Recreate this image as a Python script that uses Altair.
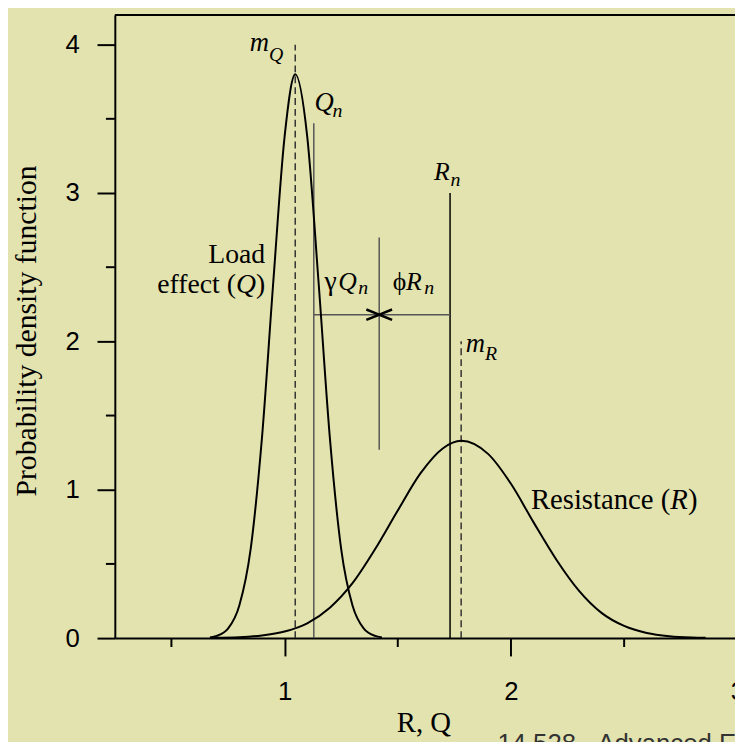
import altair as alt
import pandas as pd

BG = "#e3e3af"
SERIF = "Liberation Serif"
SANS = "Liberation Sans"

# Load effect (Q) curve
q_x = [0.67, 0.70, 0.75, 0.80, 0.85, 0.90, 0.95, 1.00, 1.047, 1.10, 1.15, 1.20, 1.25, 1.30, 1.35, 1.40, 1.43]
q_y = [0.005, 0.015, 0.064, 0.22, 0.60, 1.35, 2.40, 3.38, 3.80, 3.38, 2.40, 1.35, 0.60, 0.22, 0.064, 0.015, 0.005]

# Resistance (R) curve
r_x = [0.68, 0.80, 0.90, 1.00, 1.10, 1.20, 1.30, 1.40, 1.50, 1.60, 1.70, 1.78, 1.90, 2.00, 2.10, 2.20, 2.30, 2.40, 2.50, 2.60, 2.70, 2.80, 2.86]
r_y = [0.002, 0.006, 0.018, 0.045, 0.10, 0.205, 0.37, 0.60, 0.86, 1.11, 1.28, 1.33, 1.24, 1.04, 0.78, 0.53, 0.32, 0.17, 0.082, 0.035, 0.013, 0.004, 0.002]

# vertical reference lines: mQ, Qn, Rn, mR, centre line
vl_x = [1.047, 1.129, 1.731, 1.780, 1.418]
vl_y0 = [0.0, 0.0, 0.0, 0.0, 1.27]
vl_y1 = [4.0, 3.47, 3.0, 2.0, 2.70]
vl_kind = ["dashed", "gray", "black", "dashed", "gray"]

# horizontal dimension line
h_y = [2.18]
h_x0 = [1.129]
h_x1 = [1.731]

# arrow tips
arrow_x = [1.418]
arrow_y = [2.18]

# tick values
y_major = [0, 1, 2, 3, 4]
y_minor = [0.5, 1.5, 2.5, 3.5]
x_major = [1, 2, 3]
x_minor = [0.5, 1.5, 2.5]

# annotation pieces: text, x, y, size, style, align
lab_text = ["m", "Q", "Q", "n", "R", "n", "m", "R",
            "γ", "Q", "n", "ϕ", "R", "n",
            "Load", ")", "Q", "effect (",
            "Resistance (", "R", ")"]
lab_x = [0.931, 0.931, 1.132, 1.212, 1.660, 1.733, 1.800, 1.885,
         1.176, 1.237, 1.325, 1.478, 1.536, 1.617,
         0.914, 0.914, 0.8734, 0.7852,
         2.088, 2.704, 2.782]
lab_y = [3.96, 3.89, 3.555, 3.51, 3.09, 3.05, 1.929, 1.873,
         2.345, 2.345, 2.32, 2.345, 2.345, 2.32,
         2.527, 2.327, 2.327, 2.327,
         0.867, 0.867, 0.867]
lab_size = [27, 20, 27, 20, 26, 20, 27, 20,
            28, 26, 20, 26, 26, 20,
            28, 28, 28, 28,
            29, 29, 29]
lab_style = ["italic", "italic", "italic", "italic", "italic", "italic", "italic", "italic",
             "normal", "italic", "italic", "normal", "italic", "italic",
             "normal", "normal", "italic", "normal",
             "normal", "italic", "normal"]
lab_align = ["right", "left", "left", "left", "left", "left", "left", "left",
             "left", "left", "left", "left", "left", "left",
             "right", "right", "right", "right",
             "left", "left", "left"]

footer_text = ["14.528 - Advanced Engineering Structures"]
footer_x = [1.94]
footer_y = [-0.771]

xs = alt.Scale(domain=[0.25, 3.3], range=[0, 698], nice=False, zero=False)
ys = alt.Scale(domain=[0, 4.2], nice=False, zero=False)

xa = alt.Axis(values=x_major, title="R, Q", tickSize=18, tickWidth=2, tickColor="black",
              domainColor="black", domainWidth=2, grid=False,
              labelFont=SANS, labelFontSize=26, labelColor="black", labelPadding=44,
              labelBaseline="alphabetic", labelFlush=False, labelOverlap=False,
              titleFont=SERIF, titleFontSize=29, titleFontWeight="normal", titleColor="black",
              titleX=312, titleY=94, titleBaseline="alphabetic")
ya = alt.Axis(values=y_major, title="Probability density function", tickSize=18, tickWidth=2,
              tickColor="black", domainColor="black", domainWidth=2, grid=False,
              labelFont=SANS, labelFontSize=26, labelColor="black", labelPadding=18,
              titleFont=SERIF, titleFontSize=30, titleFontWeight="normal", titleColor="black",
              titleX=-80, titleY=319, titleBaseline="alphabetic")


def X(f):
    return alt.X(f, type="quantitative", scale=xs, axis=xa)


def Y(f):
    return alt.Y(f, type="quantitative", scale=ys, axis=ya)


curves = pd.DataFrame({
    "x": q_x + r_x,
    "y": q_y + r_y,
    "s": ["Q"] * len(q_x) + ["R"] * len(r_x),
})
vlines = pd.DataFrame({"x": vl_x, "y": vl_y0, "y1": vl_y1, "k": vl_kind})
hline = pd.DataFrame({"x": h_x0, "x1": h_x1, "y": h_y})
arrows = pd.DataFrame({"x": arrow_x, "y": arrow_y})

layers = []

# top border of the frame
layers.append(
    alt.Chart(pd.DataFrame({"a": [0]})).mark_rule(color="black", strokeWidth=2)
    .encode(x=alt.value(0), x2=alt.value(700), y=alt.value(0))
)

# minor ticks
layers.append(
    alt.Chart(pd.DataFrame({"y": y_minor})).mark_rule(color="black", strokeWidth=2)
    .encode(y=Y("y"), x=alt.value(-9), x2=alt.value(0))
)
layers.append(
    alt.Chart(pd.DataFrame({"x": x_minor})).mark_rule(color="black", strokeWidth=2)
    .encode(x=X("x"), y=alt.value(630), y2=alt.value(639))
)

# reference lines
layers.append(
    alt.Chart(vlines).transform_filter("datum.k == 'dashed'")
    .mark_rule(color="#333333", strokeWidth=1.5, strokeDash=[7, 4])
    .encode(x=X("x"), y=Y("y"), y2="y1:Q")
)
layers.append(
    alt.Chart(vlines).transform_filter("datum.k == 'gray'")
    .mark_rule(color="#555555", strokeWidth=1.5)
    .encode(x=X("x"), y=Y("y"), y2="y1:Q")
)
layers.append(
    alt.Chart(vlines).transform_filter("datum.k == 'black'")
    .mark_rule(color="black", strokeWidth=1.5)
    .encode(x=X("x"), y=Y("y"), y2="y1:Q")
)
layers.append(
    alt.Chart(hline).mark_rule(color="#555555", strokeWidth=1.5)
    .encode(x=X("x"), x2="x1:Q", y=Y("y"))
)

# arrow heads
layers.append(
    alt.Chart(arrows).mark_point(shape="M-1,-0.4L0,0L-1,0.4", size=676, filled=False,
                                 color="black", strokeWidth=2.5, opacity=1)
    .encode(x=X("x"), y=Y("y"))
)
layers.append(
    alt.Chart(arrows).mark_point(shape="M1,-0.4L0,0L1,0.4", size=676, filled=False,
                                 color="black", strokeWidth=2.5, opacity=1)
    .encode(x=X("x"), y=Y("y"))
)

# curves
layers.append(
    alt.Chart(curves).mark_line(color="black", strokeWidth=2, interpolate="monotone")
    .encode(x=X("x"), y=Y("y"), detail="s:N")
)

# annotations
for t, x, y, s, st, al in zip(lab_text, lab_x, lab_y, lab_size, lab_style, lab_align):
    layers.append(
        alt.Chart(pd.DataFrame({"x": [x], "y": [y], "t": [t]}))
        .mark_text(align=al, baseline="alphabetic", font=SERIF, fontSize=s, fontStyle=st, color="black")
        .encode(x=X("x"), y=Y("y"), text="t:N")
    )

# footer
layers.append(
    alt.Chart(pd.DataFrame({"x": footer_x, "y": footer_y, "t": footer_text}))
    .mark_text(align="left", baseline="alphabetic", font=SANS, fontSize=26, color="#333333")
    .encode(x=X("x"), y=Y("y"), text="t:N")
)

chart = (
    alt.layer(*layers)
    .properties(width=627, height=630, background=BG,
                padding={"left": 108, "top": 3, "right": 0, "bottom": 101},
                autosize=alt.AutoSizeParams(type="none"))
    .configure_view(strokeWidth=0)
)

chart.save("out.html", embed_options={"renderer": "svg", "actions": False})
